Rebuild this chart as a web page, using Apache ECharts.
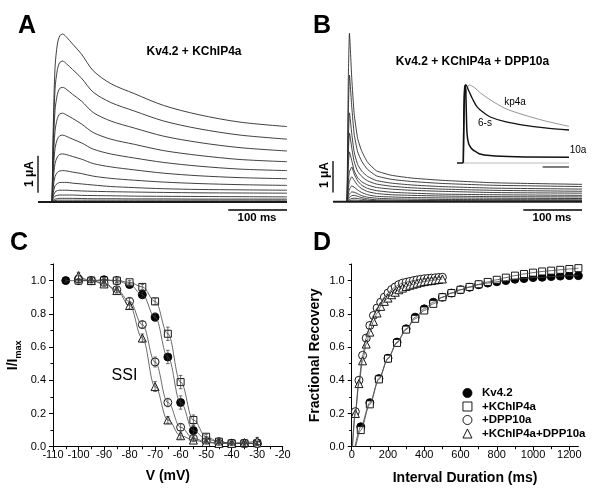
<!DOCTYPE html>
<html><head><meta charset="utf-8">
<script src="https://cdn.jsdelivr.net/npm/echarts@6/dist/echarts.min.js"></script>
<style>html,body{margin:0;padding:0;background:#fff}#c{width:600px;height:495px}</style>
</head><body><div id="c"></div>
<script>
const FONT = 'Liberation Sans, Arial, Helvetica, sans-serif';

// ---------- Panel A: Kv4.2 + KChIP4a current traces (µA vs ms) ----------
const aTime = [0, 2, 5, 9, 13, 18, 25, 35, 50, 70, 100, 140, 190, 250, 320, 400];
const aTraces = [
  [0, 2.04, 3.63, 4.27, 4.49, 4.54, 4.45, 4.27, 4.00, 3.55, 3.20, 2.93, 2.61, 2.36, 2.16, 2.04],
  [0, 1.71, 3.05, 3.58, 3.77, 3.81, 3.73, 3.58, 3.35, 2.97, 2.69, 2.46, 2.19, 1.98, 1.81, 1.70],
  [0, 1.40, 2.48, 2.91, 3.07, 3.10, 3.04, 2.91, 2.73, 2.42, 2.19, 2.00, 1.78, 1.61, 1.47, 1.38],
  [0, 1.08, 1.92, 2.26, 2.38, 2.40, 2.35, 2.26, 2.11, 1.88, 1.70, 1.56, 1.39, 1.26, 1.15, 1.09],
  [0, 0.81, 1.45, 1.70, 1.79, 1.81, 1.77, 1.70, 1.60, 1.43, 1.30, 1.19, 1.07, 0.97, 0.89, 0.85],
  [0, 0.59, 1.04, 1.22, 1.29, 1.30, 1.28, 1.23, 1.16, 1.04, 0.95, 0.87, 0.78, 0.71, 0.66, 0.63],
  [0, 0.40, 0.69, 0.80, 0.84, 0.85, 0.84, 0.81, 0.77, 0.70, 0.64, 0.59, 0.54, 0.50, 0.47, 0.45],
  [0, 0.25, 0.44, 0.50, 0.53, 0.53, 0.53, 0.51, 0.49, 0.46, 0.42, 0.39, 0.36, 0.34, 0.33, 0.32],
  [0, 0.16, 0.27, 0.31, 0.32, 0.32, 0.32, 0.31, 0.30, 0.29, 0.28, 0.27, 0.26, 0.25, 0.245, 0.24],
  [0, 0.10, 0.16, 0.18, 0.19, 0.19, 0.19, 0.19, 0.18, 0.175, 0.17, 0.16, 0.155, 0.15, 0.145, 0.14],
  [0, 0.05, 0.08, 0.09, 0.10, 0.10, 0.10, 0.10, 0.095, 0.09, 0.09, 0.085, 0.085, 0.08, 0.08, 0.08],
  [0, 0.03, 0.04, 0.05, 0.05, 0.05, 0.05, 0.05, 0.05, 0.05, 0.05, 0.05, 0.05, 0.05, 0.05, 0.05]
];
const aBaseT = [-24, 400];
const aBarI = [0.25, 1.25];      // 1 µA scale bar
const aBarT = [300, 400];        // 100 ms scale bar
const aBarTy = -0.215;

// ---------- Panel B: Kv4.2 + KChIP4a + DPP10a ----------
const bTime = [0, 2, 4, 8, 12, 18, 25, 35, 50, 75, 110, 160, 250, 400];
const bTraces = [
  [0, 3.8, 5.35, 3.9, 2.8, 2.0, 1.6, 1.25, 0.98, 0.84, 0.75, 0.68, 0.60, 0.55],
  [0, 2.7, 4.02, 3.0, 2.15, 1.58, 1.28, 1.02, 0.82, 0.71, 0.64, 0.58, 0.52, 0.48],
  [0, 1.9, 2.82, 2.15, 1.58, 1.18, 0.97, 0.80, 0.67, 0.59, 0.53, 0.48, 0.43, 0.40],
  [0, 1.5, 2.18, 1.7, 1.27, 0.96, 0.80, 0.66, 0.56, 0.49, 0.44, 0.40, 0.36, 0.33],
  [0, 1.1, 1.58, 1.3, 0.98, 0.76, 0.63, 0.53, 0.45, 0.40, 0.36, 0.33, 0.29, 0.27],
  [0, 0.6, 0.95, 1.10, 0.88, 0.66, 0.52, 0.42, 0.35, 0.30, 0.27, 0.24, 0.22, 0.20],
  [0, 0.4, 0.65, 0.79, 0.68, 0.52, 0.41, 0.32, 0.26, 0.22, 0.20, 0.18, 0.16, 0.15],
  [0, 0.24, 0.40, 0.50, 0.46, 0.37, 0.29, 0.22, 0.17, 0.15, 0.13, 0.12, 0.11, 0.10],
  [0, 0.14, 0.24, 0.31, 0.30, 0.25, 0.19, 0.14, 0.11, 0.09, 0.08, 0.07, 0.065, 0.06],
  [0, 0.08, 0.14, 0.19, 0.20, 0.17, 0.13, 0.09, 0.06, 0.05, 0.04, 0.035, 0.03, 0.03],
  [0, 0.04, 0.07, 0.10, 0.11, 0.10, 0.08, 0.05, 0.03, 0.02, 0.02, 0.015, 0.015, 0.015],
  [0, 0.02, 0.03, 0.045, 0.05, 0.045, 0.035, 0.025, 0.015, 0.01, 0.01, 0.005, 0.005, 0.005]
];
const bBaseT = [-24, 400];
const bBarI = [0.29, 1.29];
const bBarT = [300, 400];
const bBarTy = -0.264;

// ---------- Inset (normalized) ----------
const kpT = [0, 3, 8, 23, 41, 64, 102, 158, 226, 309, 400];
const kpY = [0, 0.5, 0.85, 1.0, 0.97, 0.9, 0.81, 0.70, 0.62, 0.54, 0.47];
const sixT = [0, 2, 5, 10, 20, 35, 52, 75, 102, 158, 226, 309, 400];
const sixY = [0, 0.6, 0.95, 1.0, 0.93, 0.82, 0.72, 0.65, 0.59, 0.53, 0.487, 0.45, 0.423];
const tenT = [0, 2, 5, 8, 11, 14, 20, 30, 40, 60, 100, 200, 400];
const tenY = [0, 0.6, 0.97, 1.0, 0.7, 0.38, 0.25, 0.19, 0.16, 0.12, 0.095, 0.08, 0.075];
const insPreT = [-24, 0];
const insBaseT = [0, 400];
const insBarT = [300, 400];
const insBarY = -0.051;

// ---------- Panel C: steady-state inactivation ----------
const cKvV = [-105, -100, -95, -90, -85, -80, -75, -70, -65, -60, -55, -50, -45, -40, -35, -30];
const cKvY = [1.0, 1.0, 1.0, 1.005, 1.0, 0.976, 0.915, 0.78, 0.54, 0.266, 0.097, 0.045, 0.03, 0.02, 0.02, 0.02];
const cKvE = [0.01, 0.01, 0.01, 0.01, 0.01, 0.01, 0.015, 0.025, 0.04, 0.04, 0.03, 0.015, 0.01, 0.01, 0.01, 0.01];
const cV = [-100, -95, -90, -85, -80, -75, -70, -65, -60, -55, -50, -45, -40, -35, -30];
const cKcY = [1.0, 1.0, 1.0, 1.0, 0.99, 0.962, 0.875, 0.68, 0.389, 0.161, 0.06, 0.03, 0.02, 0.02, 0.02];
const cKcE = [0.01, 0.01, 0.01, 0.01, 0.01, 0.015, 0.02, 0.04, 0.04, 0.03, 0.015, 0.01, 0.01, 0.01, 0.01];
const cDpY = [1.01, 1.0, 0.985, 0.945, 0.875, 0.735, 0.51, 0.266, 0.117, 0.05, 0.03, 0.02, 0.02, 0.02, 0.02];
const cDpE = [0.02, 0.015, 0.015, 0.015, 0.02, 0.02, 0.03, 0.025, 0.02, 0.015, 0.01, 0.01, 0.01, 0.01, 0.01];
const cCpY = [1.03, 1.0, 0.98, 0.94, 0.85, 0.654, 0.362, 0.161, 0.066, 0.04, 0.025, 0.02, 0.02, 0.025, 0.035];
const cCpE = [0.02, 0.01, 0.015, 0.015, 0.02, 0.025, 0.03, 0.02, 0.015, 0.01, 0.01, 0.01, 0.01, 0.01, 0.02];

// ---------- Panel D: recovery from inactivation ----------
const dFastT = [20, 40, 60, 80, 100, 120, 140, 160, 180, 200, 220, 240, 260, 280, 300, 320, 340, 360, 380, 400, 420, 440, 460, 480, 500];
const dDpY = [0.211, 0.40, 0.55, 0.654, 0.73, 0.79, 0.835, 0.87, 0.9, 0.925, 0.946, 0.962, 0.976, 0.985, 0.99, 0.995, 1.0, 1.004, 1.008, 1.011, 1.013, 1.015, 1.017, 1.019, 1.02];
const dCpY = [0.20, 0.38, 0.517, 0.618, 0.69, 0.755, 0.805, 0.845, 0.875, 0.895, 0.915, 0.93, 0.945, 0.955, 0.965, 0.972, 0.978, 0.984, 0.99, 0.994, 0.998, 1.0, 1.004, 1.007, 1.01];
const dSlowT = [50, 100, 150, 200, 250, 300, 350, 400, 450, 500, 550, 600, 650, 700, 750, 800, 850, 900, 950, 1000, 1050, 1100, 1150, 1200, 1250];
const dKvY = [0.12, 0.265, 0.41, 0.533, 0.63, 0.71, 0.78, 0.83, 0.87, 0.9, 0.925, 0.945, 0.96, 0.975, 0.985, 0.993, 1.0, 1.008, 1.012, 1.018, 1.02, 1.024, 1.027, 1.03, 1.03];
const dKcY = [0.10, 0.255, 0.405, 0.53, 0.625, 0.705, 0.77, 0.82, 0.86, 0.9, 0.925, 0.945, 0.962, 0.978, 0.992, 1.005, 1.018, 1.03, 1.04, 1.048, 1.055, 1.06, 1.065, 1.07, 1.075];
const dFitStart = { kv: [18, 0], kc: [22, 0], dp: [3, 0], cp: [5, 0] };

const legendNames = ['Kv4.2', '+KChIP4a', '+DPP10a', '+KChIP4a+DPP10a'];
const yTicksMajor = [0, 0.2, 0.4, 0.6, 0.8, 1.0];
const yTicksMinor = [0.1, 0.3, 0.5, 0.7, 0.9, 1.1];
const dTicksMajor = [0, 200, 400, 600, 800, 1000, 1200];
const dTicksMinor = [100, 300, 500, 700, 900, 1100];

// ---------- helpers ----------
const zip = (xs, ys) => xs.map((x, i) => [x, ys[i]]);
function trace(xi, t, v, color, width, smooth) {
  return { type: 'line', xAxisIndex: xi, yAxisIndex: xi, data: zip(t, v), symbol: 'none',
    smooth: smooth, lineStyle: { color: color, width: width }, silent: true, z: 2 };
}
function hLine(xi, yi, ts, y, color, width) {
  return { type: 'line', xAxisIndex: xi, yAxisIndex: yi, data: ts.map(t => [t, y]), symbol: 'none',
    lineStyle: { color: color, width: width }, silent: true, z: 3 };
}
function vLine(xi, yi, t, ys, color, width) {
  return { type: 'line', xAxisIndex: xi, yAxisIndex: yi, data: ys.map(y => [t, y]), symbol: 'none',
    lineStyle: { color: color, width: width }, silent: true, z: 3 };
}
function markers(name, xi, yi, xs, ys, symbol, size, filled) {
  return { type: 'scatter', name: name, xAxisIndex: xi, yAxisIndex: yi, data: zip(xs, ys),
    symbol: symbol, symbolSize: size, silent: true, z: 3,
    itemStyle: { color: filled ? '#000' : '#fff', borderColor: '#000', borderWidth: 0.9, opacity: 1 } };
}
function fitLine(xi, yi, pts, smooth) {
  return { type: 'line', xAxisIndex: xi, yAxisIndex: yi, data: pts, symbol: 'none', smooth: smooth,
    smoothMonotone: 'x', lineStyle: { color: '#444', width: 0.8 }, silent: true, z: 4 };
}
function errBars(xi, yi, xs, ys, es) {
  return { type: 'custom', xAxisIndex: xi, yAxisIndex: yi, z: 4, silent: true,
    data: xs.map((x, i) => [x, ys[i], es[i]]), encode: { x: 0, y: 1 },
    renderItem: (p, api) => {
      const x = api.value(0), y = api.value(1), e = api.value(2);
      const a = api.coord([x, y + e]), b = api.coord([x, y - e]);
      const st = { stroke: '#333', lineWidth: 0.7 };
      return { type: 'group', children: [
        { type: 'line', shape: { x1: a[0], y1: a[1], x2: b[0], y2: b[1] }, style: st },
        { type: 'line', shape: { x1: a[0] - 1.8, y1: a[1], x2: a[0] + 1.8, y2: a[1] }, style: st },
        { type: 'line', shape: { x1: b[0] - 1.8, y1: b[1], x2: b[0] + 1.8, y2: b[1] }, style: st }
      ] };
    } };
}

const hiddenAxis = (gi, min, max) => ({ gridIndex: gi, type: 'value', min: min, max: max, show: false });
const axisText = { color: '#000', fontSize: 11, fontFamily: FONT };
const nameText = { color: '#000', fontSize: 14, fontWeight: 'bold', fontFamily: FONT };

const series = [];
// A
series.push(hLine(0, 0, aBaseT, 0, '#1a1a1a', 2));
aTraces.forEach(v => series.push(trace(0, aTime, v, '#2b2b2b', 0.9, 0.3)));
series.push(vLine(0, 0, -24, aBarI, '#000', 1.3));
series.push(hLine(0, 0, aBarT, aBarTy, '#000', 1.3));
// B
series.push(hLine(1, 1, bBaseT, 0, '#1a1a1a', 2));
bTraces.forEach(v => series.push(trace(1, bTime, v, '#2b2b2b', 0.9, 0.15)));
series.push(vLine(1, 1, -24, bBarI, '#000', 1.3));
series.push(hLine(1, 1, bBarT, bBarTy, '#000', 1.3));
// Inset
series.push(hLine(2, 2, insPreT, 0, '#111', 1.6));
series.push(hLine(2, 2, insBaseT, 0, '#aaa', 0.8));
series.push(hLine(2, 2, insBarT, insBarY, '#000', 1.1));
series.push(trace(2, kpT, kpY, '#7a7a7a', 0.8, 0.3));
series.push(trace(2, sixT, sixY, '#111', 1.3, 0.3));
series.push(trace(2, tenT, tenY, '#111', 1.5, 0.3));
// C
series.push(markers('c1', 3, 3, cKvV, cKvY, 'circle', 8, true));
series.push(markers('c2', 3, 3, cV, cKcY, 'rect', 7, false));
series.push(markers('c3', 3, 3, cV, cDpY, 'circle', 8, false));
series.push(markers('c4', 3, 3, cV, cCpY, 'triangle', 8, false));
series.push(fitLine(3, 3, zip(cKvV, cKvY), 0.4));
series.push(fitLine(3, 3, zip(cV, cKcY), 0.4));
series.push(fitLine(3, 3, zip(cV, cDpY), 0.4));
series.push(fitLine(3, 3, zip(cV, cCpY), 0.4));
series.push(errBars(3, 3, cKvV, cKvY, cKvE));
series.push(errBars(3, 3, cV, cKcY, cKcE));
series.push(errBars(3, 3, cV, cDpY, cDpE));
series.push(errBars(3, 3, cV, cCpY, cCpE));
// D
series.push(markers(legendNames[0], 4, 5, dSlowT, dKvY, 'circle', 8, true));
series.push(markers(legendNames[1], 4, 5, dSlowT, dKcY, 'rect', 7, false));
series.push(markers(legendNames[2], 4, 5, dFastT, dDpY, 'circle', 8, false));
series.push(markers(legendNames[3], 4, 5, dFastT, dCpY, 'triangle', 8, false));
series.push(fitLine(4, 5, [dFitStart.kv].concat(zip(dSlowT, dKvY)), 0.3));
series.push(fitLine(4, 5, [dFitStart.kc].concat(zip(dSlowT, dKcY)), 0.3));
series.push(fitLine(4, 5, [dFitStart.dp].concat(zip(dFastT, dDpY)), 0.3));
series.push(fitLine(4, 5, [dFitStart.cp].concat(zip(dFastT, dCpY)), 0.3));

const txt = (x, y, text, size, weight, extra) => Object.assign({
  type: 'text', x: x, y: y, silent: true,
  style: { text: text, fontSize: size, fontWeight: weight, fontFamily: FONT, fill: '#000',
    align: 'center', verticalAlign: 'middle', textAlign: 'center', textVerticalAlign: 'middle' }
}, extra || {});
const letter = (x, y, t) => ({ type: 'text', x: x, y: y, silent: true,
  style: { text: t, fontSize: 25, fontWeight: 'bold', fontFamily: FONT, fill: '#000',
    align: 'left', verticalAlign: 'middle', textAlign: 'left', textVerticalAlign: 'middle' } });

const option = {
  animation: false,
  backgroundColor: '#fff',
  grid: [
    { left: 38, top: 30, width: 249, height: 185 },
    { left: 333, top: 30, width: 249, height: 185 },
    { left: 457, top: 80, width: 112, height: 92 },
    { left: 53, top: 264, width: 229.7, height: 182.7 },
    { left: 351.7, top: 264, width: 226.7, height: 182.7 }
  ],
  xAxis: [
    hiddenAxis(0, -24, 400),
    hiddenAxis(1, -24, 400),
    hiddenAxis(2, -24, 400),
    { gridIndex: 3, type: 'value', min: -110, max: -20, interval: 10,
      axisLine: { show: true, onZero: false, lineStyle: { color: '#000', width: 1 } },
      axisTick: { show: true, inside: false, length: 4, lineStyle: { color: '#000' } },
      minorTick: { show: true, splitNumber: 2, length: 2.5, lineStyle: { color: '#000' } },
      splitLine: { show: false }, minorSplitLine: { show: false },
      axisLabel: Object.assign({ margin: 3 }, axisText),
      name: 'V (mV)', nameLocation: 'middle', nameGap: 22, nameTextStyle: nameText },
    { gridIndex: 4, type: 'value', min: 0, max: 1250,
      axisLine: { show: true, onZero: false, lineStyle: { color: '#000', width: 1 } },
      axisTick: { show: true, inside: false, length: 4, customValues: dTicksMajor, lineStyle: { color: '#000' } },
      splitLine: { show: false },
      axisLabel: Object.assign({ margin: 3, customValues: dTicksMajor, formatter: v => String(v) }, axisText),
      name: 'Interval Duration (ms)', nameLocation: 'middle', nameGap: 24, nameTextStyle: nameText },
    { gridIndex: 4, type: 'value', min: 0, max: 1250, position: 'bottom', offset: 0,
      axisLine: { show: false }, splitLine: { show: false }, axisLabel: { show: false },
      axisTick: { show: true, inside: false, length: 2.5, customValues: dTicksMinor, lineStyle: { color: '#000' } } }
  ],
  yAxis: [
    hiddenAxis(0, -0.35, 4.65),
    hiddenAxis(1, -0.423, 5.45),
    hiddenAxis(2, -0.115, 1.064),
    { gridIndex: 3, type: 'value', min: 0, max: 1.1,
      axisLine: { show: true, onZero: false, lineStyle: { color: '#000', width: 1 } },
      axisTick: { show: true, inside: false, length: 4, customValues: yTicksMajor, lineStyle: { color: '#000' } },
      splitLine: { show: false },
      axisLabel: Object.assign({ margin: 7, customValues: yTicksMajor, formatter: v => v.toFixed(1) }, axisText),
      name: 'I/I{s|max}', nameLocation: 'middle', nameGap: 30,
      nameTextStyle: Object.assign({}, nameText, { rich: {
        s: { fontSize: 9, fontWeight: 'bold', fontFamily: FONT, color: '#000', lineHeight: 9, verticalAlign: 'bottom' }
      }, lineHeight: 20 }) },
    { gridIndex: 3, type: 'value', min: 0, max: 1.1, position: 'left', offset: 0,
      axisLine: { show: false }, splitLine: { show: false }, axisLabel: { show: false },
      axisTick: { show: true, inside: false, length: 2.5, customValues: yTicksMinor, lineStyle: { color: '#000' } } },
    { gridIndex: 4, type: 'value', min: 0, max: 1.1,
      axisLine: { show: true, onZero: false, lineStyle: { color: '#000', width: 1 } },
      axisTick: { show: true, inside: false, length: 4, customValues: yTicksMajor, lineStyle: { color: '#000' } },
      splitLine: { show: false },
      axisLabel: Object.assign({ margin: 7, customValues: yTicksMajor, formatter: v => v.toFixed(1) }, axisText),
      name: 'Fractional Recovery', nameLocation: 'middle', nameGap: 30, nameTextStyle: nameText },
    { gridIndex: 4, type: 'value', min: 0, max: 1.1, position: 'left', offset: 0,
      axisLine: { show: false }, splitLine: { show: false }, axisLabel: { show: false },
      axisTick: { show: true, inside: false, length: 2.5, customValues: yTicksMinor, lineStyle: { color: '#000' } } }
  ],
  legend: {
    orient: 'vertical', left: 457.5, top: 382, itemWidth: 9, itemHeight: 9, itemGap: 1.5,
    selectedMode: false,
    textStyle: { color: '#000', fontSize: 11.5, fontWeight: 'bold', fontFamily: FONT, padding: [0, 0, 0, 5] },
    data: [
      { name: legendNames[0], icon: 'circle', itemStyle: { color: '#000', borderColor: '#000', borderWidth: 0.9 } },
      { name: legendNames[1], icon: 'rect', itemStyle: { color: '#fff', borderColor: '#000', borderWidth: 0.9 } },
      { name: legendNames[2], icon: 'circle', itemStyle: { color: '#fff', borderColor: '#000', borderWidth: 0.9 } },
      { name: legendNames[3], icon: 'triangle', itemStyle: { color: '#fff', borderColor: '#000', borderWidth: 0.9 } }
    ]
  },
  graphic: [
    letter(18, 26, 'A'), letter(313, 26, 'B'), letter(10, 243.5, 'C'), letter(313, 243.5, 'D'),
    txt(194, 52, 'Kv4.2 + KChIP4a', 12, 'bold'),
    txt(472.5, 61.7, 'Kv4.2 + KChIP4a + DPP10a', 12, 'bold'),
    txt(257, 218, '100 ms', 11.5, 'bold'),
    txt(552, 218, '100 ms', 11.5, 'bold'),
    txt(30, 174, '1 \u03bcA', 12, 'bold', { rotation: Math.PI / 2 }),
    txt(325, 175, '1 \u03bcA', 12, 'bold', { rotation: Math.PI / 2 }),
    txt(515, 102, 'kp4a', 10, 'normal'),
    txt(485, 123, '6-s', 10, 'normal'),
    txt(578, 150, '10a', 10, 'normal'),
    txt(124.5, 376, 'SSI', 16, 'normal')
  ],
  series: series
};
echarts.init(document.getElementById('c'), null, { renderer: 'canvas' }).setOption(option);
</script></body></html>
